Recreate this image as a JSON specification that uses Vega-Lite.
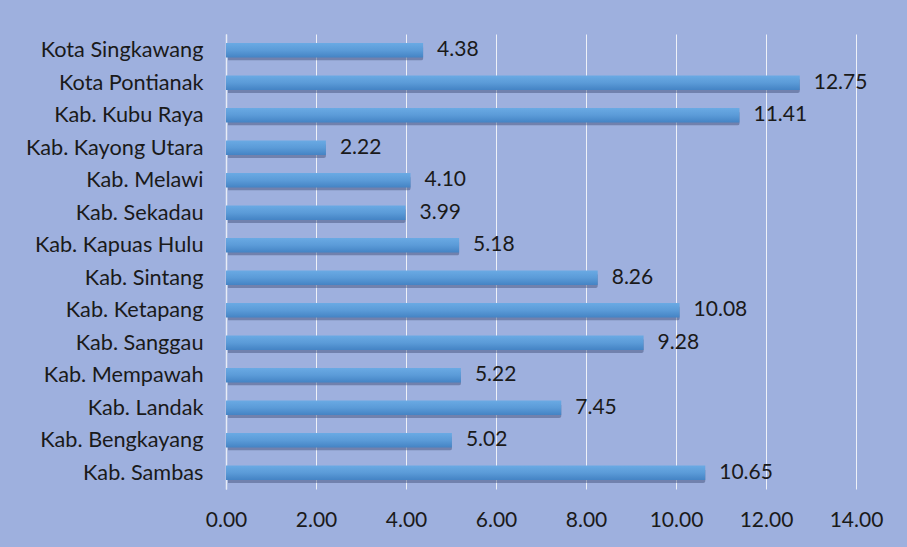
{
  "$schema": "https://vega.github.io/schema/vega-lite/v6.json",
  "autosize": {"type": "none"},
  "width": 630,
  "height": 455,
  "padding": {"left": 226, "top": 34, "right": 51, "bottom": 58},
  "background": "#9eb0de",
  "config": {
    "view": {"stroke": null},
    "font": "Lato",
    "axis": {"labelFont": "Lato", "labelFontSize": 21, "labelColor": "#1a1a1a", "ticks": false, "title": null}
  },
  "data": {
    "values": [
      {"region": "Kota Singkawang", "value": 4.38},
      {"region": "Kota Pontianak", "value": 12.75},
      {"region": "Kab. Kubu Raya", "value": 11.41},
      {"region": "Kab. Kayong Utara", "value": 2.22},
      {"region": "Kab. Melawi", "value": 4.10},
      {"region": "Kab. Sekadau", "value": 3.99},
      {"region": "Kab. Kapuas Hulu", "value": 5.18},
      {"region": "Kab. Sintang", "value": 8.26},
      {"region": "Kab. Ketapang", "value": 10.08},
      {"region": "Kab. Sanggau", "value": 9.28},
      {"region": "Kab. Mempawah", "value": 5.22},
      {"region": "Kab. Landak", "value": 7.45},
      {"region": "Kab. Bengkayang", "value": 5.02},
      {"region": "Kab. Sambas", "value": 10.65}
    ]
  },
  "encoding": {
    "y": {
      "field": "region", "type": "nominal", "sort": null,
      "scale": {"paddingInner": 0.55, "paddingOuter": 0.275},
      "axis": {"labelPadding": 23, "labelFontSize": 21.7, "domain": true, "domainColor": "#e8ecf6", "domainWidth": 1.5, "grid": false}
    },
    "x": {
      "field": "value", "type": "quantitative",
      "scale": {"domain": [0, 14], "nice": false},
      "axis": {"values": [0, 2, 4, 6, 8, 10, 12, 14], "format": ".2f", "labelPadding": 20, "domain": false, "grid": true, "gridColor": "#eef1f8", "gridWidth": 1, "labelFlush": false}
    }
  },
  "layer": [
    {
      "mark": {"type": "bar", "color": "#3a4a70", "opacity": 0.45, "yOffset": 3, "xOffset": 2, "cornerRadius": 2}
    },
    {
      "mark": {
        "type": "bar",
        "color": {
          "gradient": "linear", "x1": 0, "y1": 0, "x2": 0, "y2": 1,
          "stops": [
            {"offset": 0, "color": "#6aaae4"},
            {"offset": 0.5, "color": "#5b9bd8"},
            {"offset": 1, "color": "#4483c4"}
          ]
        }
      }
    },
    {
      "mark": {"type": "text", "align": "left", "baseline": "middle", "dx": 14, "fontSize": 21, "font": "Lato", "color": "#1a1a1a"},
      "encoding": {"text": {"field": "value", "type": "quantitative", "format": ".2f"}}
    }
  ]
}
